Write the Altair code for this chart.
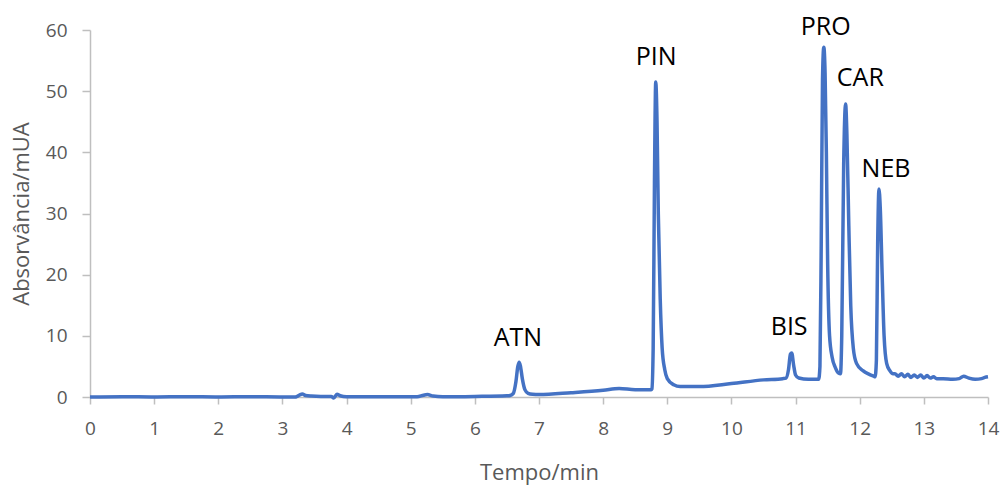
import altair as alt
import pandas as pd

# Chromatogram trace: retention time (min) and absorbance (mUA)
tempo = [
    0.0, 0.5, 1.0, 1.5, 2.0, 2.5, 3.0, 3.2,
    3.22, 3.27, 3.31, 3.36, 3.45, 3.6, 3.76, 3.80, 3.85, 3.9, 4.0,
    4.5, 5.1, 5.2, 5.26, 5.35, 5.5, 6.0, 6.5, 6.55,
    6.60, 6.64, 6.67, 6.69, 6.71, 6.74, 6.78, 6.83, 6.9, 7.0,
    7.5, 8.0, 8.25, 8.5, 8.75,
    8.76, 8.78, 8.80, 8.82, 8.84, 8.86, 8.89, 8.92, 8.96, 9.0, 9.1, 9.2, 9.5,
    10.0, 10.5, 10.8,
    10.85, 10.89, 10.92, 10.94, 10.97, 11.0, 11.05, 11.2, 11.35,
    11.36, 11.38, 11.40, 11.42, 11.44, 11.46, 11.48, 11.50, 11.53, 11.57, 11.62, 11.67,
    11.70, 11.72, 11.75, 11.78, 11.80, 11.83, 11.86, 11.90, 11.95, 12.05, 12.15, 12.22,
    12.24, 12.26, 12.28, 12.30, 12.32, 12.35, 12.38, 12.42, 12.47, 12.52,
    12.55, 12.6, 12.65, 12.7, 12.75, 12.8, 12.85, 12.9, 12.95, 13.0, 13.05, 13.1,
    13.15, 13.2, 13.3, 13.45, 13.55, 13.62, 13.7, 13.8, 13.9, 13.95, 14.0,
]
absorvancia = [
    0.0, 0.05, 0.0, 0.05, 0.0, 0.05, 0.0, 0.0,
    0.05, 0.35, 0.5, 0.25, 0.15, 0.1, 0.1, -0.15, 0.45, 0.2, 0.05,
    0.05, 0.05, 0.3, 0.4, 0.15, 0.05, 0.1, 0.2, 0.25,
    0.6, 2.5, 5.0, 5.7, 5.1, 3.0, 1.2, 0.6, 0.45, 0.4,
    0.7, 1.1, 1.4, 1.2, 1.2,
    1.3, 8.0, 35.0, 51.5, 45.0, 30.0, 16.0, 8.0, 4.5, 3.0, 2.0, 1.7, 1.7,
    2.2, 2.8, 3.0,
    3.1, 4.5, 7.0, 7.2, 5.2, 3.6, 3.1, 2.9, 2.9,
    2.9, 5.0, 25.0, 52.0, 57.2, 53.0, 40.0, 22.0, 10.0, 6.5, 4.8, 3.9,
    3.8, 10.0, 38.0, 47.9, 43.0, 28.0, 15.0, 8.0, 5.5, 4.3, 3.7, 3.4,
    3.3, 6.0, 25.0, 34.0, 31.0, 20.0, 10.0, 5.5, 4.3, 3.8,
    3.8, 3.4, 3.8, 3.3, 3.7, 3.2, 3.6, 3.2, 3.6, 3.1, 3.5, 3.1,
    3.3, 3.0, 3.0, 2.9, 3.0, 3.4, 3.1, 2.9, 3.0, 3.2, 3.3,
]

# Peak names and where each name sits (text baseline)
picos = ["ATN", "PIN", "BIS", "PRO", "CAR", "NEB"]
pico_tempo = [6.67, 8.826, 10.9, 11.47, 12.01, 12.41]
pico_rotulo_y = [8.4, 54.3, 10.1, 59.2, 50.8, 36.0]

serie = pd.DataFrame({"tempo": tempo, "abs": absorvancia})
rotulos = pd.DataFrame({"pico": picos, "tempo": pico_tempo, "y": pico_rotulo_y})

FONT = "Open Sans"
GRAY = "#595959"
AXIS_GRAY = "#bfbfbf"

x_scale = alt.Scale(domain=[0, 14], nice=False, zero=False)
y_scale = alt.Scale(domain=[0, 60], nice=False)

linha = alt.Chart(serie).mark_line(
    color="#4472C4", strokeWidth=3.5, interpolate="monotone", clip=False
).encode(
    x=alt.X(
        "tempo:Q",
        scale=x_scale,
        axis=alt.Axis(
            title="Tempo/min",
            values=list(range(0, 15)),
            format="d",
            grid=False,
            labelFlush=False,
            tickSize=7,
            labelPadding=15,
            titlePadding=24,
            labelFontSize=19,
            titleFontSize=22,
            titleFontWeight="normal",
        ),
    ),
    y=alt.Y(
        "abs:Q",
        scale=y_scale,
        axis=alt.Axis(
            title="Absorvância/mUA",
            values=list(range(0, 61, 10)),
            format="d",
            grid=False,
            labelFlush=False,
            tickSize=8,
            labelPadding=15,
            titlePadding=12,
            labelFontSize=19,
            titleFontSize=22,
            titleFontWeight="normal",
        ),
    ),
)

texto = alt.Chart(rotulos).mark_text(
    font=FONT, fontSize=25, color="#000000", baseline="alphabetic", align="center"
).encode(
    x=alt.X("tempo:Q", scale=x_scale),
    y=alt.Y("y:Q", scale=y_scale),
    text="pico:N",
)

chart = (
    alt.layer(linha, texto)
    .properties(
        width=898,
        height=367,
        autosize=alt.AutoSizeParams(type="none"),
        padding={"left": 90, "top": 30, "right": 15, "bottom": 93},
        background="white",
    )
    .configure_view(stroke=None)
    .configure_axis(
        labelFont=FONT,
        titleFont=FONT,
        labelColor=GRAY,
        titleColor=GRAY,
        domainColor=AXIS_GRAY,
        tickColor=AXIS_GRAY,
        domainWidth=1.5,
        tickWidth=1.5,
    )
)

chart.save("out.html", embed_options={"renderer": "svg", "actions": False})
